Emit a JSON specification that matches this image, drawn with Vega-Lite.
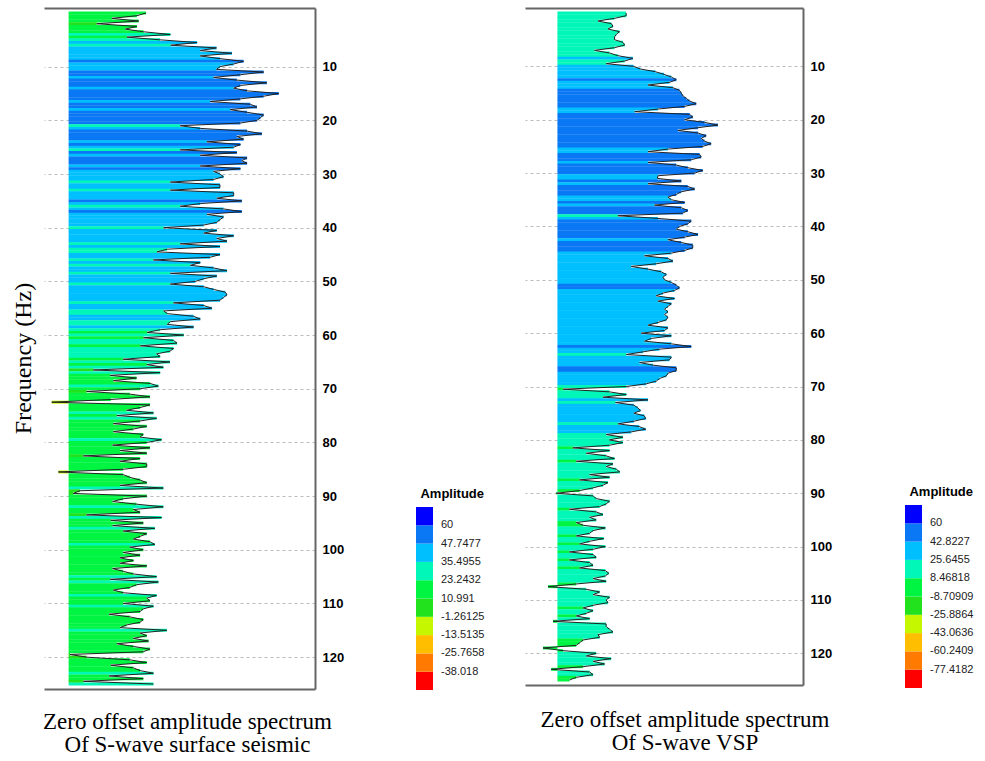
{
"$schema":"https://vega.github.io/schema/vega-lite/v6.json",
"padding":{"left":11,"top":8,"right":0,"bottom":0},
"background":"white",
"config":{"view":{"stroke":null},"font":"Liberation Sans"},
"spacing":40,
"resolve":{"scale":{"color":"independent","x":"independent","y":"independent"},"legend":{"color":"independent"}},
"datasets":{
"L":[{"f":0,"a":22},{"f":0.5,"a":19.4},{"f":1,"a":12.3},{"f":1.5,"a":19.9},{"f":2,"a":8},{"f":2.5,"a":19.4},{"f":3,"a":16.1},{"f":3.5,"a":21.3},{"f":4,"a":28.9},{"f":4.5,"a":16.6},{"f":5,"a":26},{"f":5.5,"a":36.5},{"f":6,"a":29},{"f":6.5,"a":42},{"f":7,"a":37.4},{"f":7.5,"a":46.4},{"f":8,"a":37.4},{"f":8.5,"a":43},{"f":9,"a":49.7},{"f":9.5,"a":46.9},{"f":10,"a":43},{"f":10.5,"a":42},{"f":11,"a":55.4},{"f":11.5,"a":48.8},{"f":12,"a":41.2},{"f":12.5,"a":47.8},{"f":13,"a":56.3},{"f":13.5,"a":48.8},{"f":14,"a":46.9},{"f":14.5,"a":50.7},{"f":15,"a":59.7},{"f":15.5,"a":55.4},{"f":16,"a":48.8},{"f":16.5,"a":40.2},{"f":17,"a":51.6},{"f":17.5,"a":53.5},{"f":18,"a":45.9},{"f":18.5,"a":50.7},{"f":19,"a":55.4},{"f":19.5,"a":54.5},{"f":20,"a":53.5},{"f":20.5,"a":48.8},{"f":21,"a":31.7},{"f":21.5,"a":37.4},{"f":22,"a":50.7},{"f":22.5,"a":54.9},{"f":23,"a":47.8},{"f":23.5,"a":49.7},{"f":24,"a":39.3},{"f":24.5,"a":48.8},{"f":25,"a":46.9},{"f":25.5,"a":31.7},{"f":26,"a":47.8},{"f":26.5,"a":37.4},{"f":27,"a":50.7},{"f":27.5,"a":49.2},{"f":28,"a":50.7},{"f":28.5,"a":37.4},{"f":29,"a":48.8},{"f":29.5,"a":41.2},{"f":30,"a":43},{"f":30.5,"a":44},{"f":31,"a":41.2},{"f":31.5,"a":28.9},{"f":32,"a":43},{"f":32.5,"a":43},{"f":33,"a":28.9},{"f":33.5,"a":46.9},{"f":34,"a":46.9},{"f":34.5,"a":42.1},{"f":35,"a":49.2},{"f":35.5,"a":37.4},{"f":36,"a":31.7},{"f":36.5,"a":44},{"f":37,"a":49.2},{"f":37.5,"a":39.3},{"f":38,"a":44},{"f":38.5,"a":43},{"f":39,"a":42.1},{"f":39.5,"a":38.4},{"f":40,"a":27},{"f":40.5,"a":42.1},{"f":41,"a":38.4},{"f":41.5,"a":46.9},{"f":42,"a":42.1},{"f":42.5,"a":45},{"f":43,"a":31.7},{"f":43.5,"a":43},{"f":44,"a":28},{"f":44.5,"a":25.1},{"f":45,"a":43},{"f":45.5,"a":40.2},{"f":46,"a":24.1},{"f":46.5,"a":37.4},{"f":47,"a":34.6},{"f":47.5,"a":41.2},{"f":48,"a":45},{"f":48.5,"a":28.9},{"f":49,"a":42.1},{"f":49.5,"a":38.4},{"f":50,"a":36},{"f":50.5,"a":28.9},{"f":51,"a":38.4},{"f":51.5,"a":41.2},{"f":52,"a":44.5},{"f":52.5,"a":45},{"f":53,"a":44},{"f":53.5,"a":43},{"f":54,"a":29.8},{"f":54.5,"a":38.4},{"f":55,"a":40.7},{"f":55.5,"a":27},{"f":56,"a":28},{"f":56.5,"a":35.5},{"f":57,"a":37.4},{"f":57.5,"a":28.9},{"f":58,"a":28},{"f":58.5,"a":35.5},{"f":59,"a":26},{"f":59.5,"a":22.3},{"f":60,"a":32.7},{"f":60.5,"a":21.3},{"f":61,"a":29.8},{"f":61.5,"a":30.8},{"f":62,"a":20.4},{"f":62.5,"a":29.8},{"f":63,"a":28.8},{"f":63.5,"a":25},{"f":64,"a":26},{"f":64.5,"a":15.5},{"f":65,"a":28.8},{"f":65.5,"a":22.2},{"f":66,"a":26.9},{"f":66.5,"a":7},{"f":67,"a":26},{"f":67.5,"a":11.8},{"f":68,"a":19.3},{"f":68.5,"a":12.7},{"f":69,"a":23.1},{"f":69.5,"a":25.5},{"f":70,"a":20.3},{"f":70.5,"a":5.1},{"f":71,"a":17.4},{"f":71.5,"a":23.1},{"f":72,"a":12},{"f":72.5,"a":-4.8},{"f":73,"a":23.1},{"f":73.5,"a":20.3},{"f":74,"a":16.5},{"f":74.5,"a":24.1},{"f":75,"a":13.7},{"f":75.5,"a":25},{"f":76,"a":20.3},{"f":76.5,"a":12.7},{"f":77,"a":22.2},{"f":77.5,"a":18.4},{"f":78,"a":12.7},{"f":78.5,"a":21.2},{"f":79,"a":20.3},{"f":79.5,"a":26.4},{"f":80,"a":22.2},{"f":80.5,"a":12.5},{"f":81,"a":23.1},{"f":81.5,"a":14.6},{"f":82,"a":22.2},{"f":82.5,"a":4.2},{"f":83,"a":20.3},{"f":83.5,"a":14.6},{"f":84,"a":22.2},{"f":84.5,"a":22.2},{"f":85,"a":15.5},{"f":85.5,"a":-2.9},{"f":86,"a":15.5},{"f":86.5,"a":17.4},{"f":87,"a":20.3},{"f":87.5,"a":22.2},{"f":88,"a":14.6},{"f":88.5,"a":26.9},{"f":89,"a":3.2},{"f":89.5,"a":1.3},{"f":90,"a":22.2},{"f":90.5,"a":15.5},{"f":91,"a":12.5},{"f":91.5,"a":19.3},{"f":92,"a":26.9},{"f":92.5,"a":18.4},{"f":93,"a":20.3},{"f":93.5,"a":5.1},{"f":94,"a":26.4},{"f":94.5,"a":12},{"f":95,"a":21.2},{"f":95.5,"a":12.5},{"f":96,"a":24.5},{"f":96.5,"a":15.5},{"f":97,"a":22.2},{"f":97.5,"a":20.3},{"f":98,"a":18.4},{"f":98.5,"a":23.1},{"f":99,"a":24.5},{"f":99.5,"a":17.4},{"f":100,"a":21.2},{"f":100.5,"a":15.5},{"f":101,"a":20.3},{"f":101.5,"a":14.6},{"f":102,"a":18.4},{"f":102.5,"a":14.6},{"f":103,"a":22.2},{"f":103.5,"a":12.5},{"f":104,"a":15.5},{"f":104.5,"a":18.4},{"f":105,"a":25},{"f":105.5,"a":11.8},{"f":106,"a":25.5},{"f":106.5,"a":19.3},{"f":107,"a":17.4},{"f":107.5,"a":12.7},{"f":108,"a":15.5},{"f":108.5,"a":25},{"f":109,"a":22.2},{"f":109.5,"a":23.1},{"f":110,"a":15.5},{"f":110.5,"a":24.1},{"f":111,"a":21.2},{"f":111.5,"a":20.3},{"f":112,"a":11.5},{"f":112.5,"a":17.4},{"f":113,"a":21.2},{"f":113.5,"a":20.3},{"f":114,"a":16.5},{"f":114.5,"a":14.6},{"f":115,"a":27.9},{"f":115.5,"a":20.3},{"f":116,"a":22.2},{"f":116.5,"a":18.4},{"f":117,"a":22.7},{"f":117.5,"a":13.7},{"f":118,"a":18.4},{"f":118.5,"a":23.1},{"f":119,"a":21.2},{"f":119.5,"a":0.4},{"f":120,"a":5.1},{"f":120.5,"a":17.4},{"f":121,"a":22.2},{"f":121.5,"a":12},{"f":122,"a":18.4},{"f":122.5,"a":20.3},{"f":123,"a":24.1},{"f":123.5,"a":11.5},{"f":124,"a":21.2},{"f":124.5,"a":4.2},{"f":125,"a":24.1}],
"R":[{"f":0,"a":24},{"f":0.5,"a":24.1},{"f":1,"a":19.6},{"f":1.5,"a":13.3},{"f":2,"a":18.4},{"f":2.5,"a":19},{"f":3,"a":17.1},{"f":3.5,"a":21.5},{"f":4,"a":20.3},{"f":4.5,"a":19.6},{"f":5,"a":19.6},{"f":5.5,"a":22.8},{"f":6,"a":23.5},{"f":6.5,"a":19.6},{"f":7,"a":12},{"f":7.5,"a":17.7},{"f":8,"a":20.9},{"f":8.5,"a":26.6},{"f":9,"a":23.5},{"f":9.5,"a":16.4},{"f":10,"a":26.9},{"f":10.5,"a":29.5},{"f":11,"a":35.2},{"f":11.5,"a":38.5},{"f":12,"a":41.3},{"f":12.5,"a":43.2},{"f":13,"a":40.6},{"f":13.5,"a":32.4},{"f":14,"a":41.9},{"f":14.5,"a":44.4},{"f":15,"a":45.1},{"f":15.5,"a":45.7},{"f":16,"a":47},{"f":16.5,"a":48.3},{"f":17,"a":50.8},{"f":17.5,"a":46.4},{"f":18,"a":36.2},{"f":18.5,"a":27.3},{"f":19,"a":48.3},{"f":19.5,"a":49.5},{"f":20,"a":46.4},{"f":20.5,"a":54},{"f":21,"a":59.1},{"f":21.5,"a":51.5},{"f":22,"a":43.8},{"f":22.5,"a":51.5},{"f":23,"a":54.6},{"f":23.5,"a":52.7},{"f":24,"a":54},{"f":24.5,"a":56.5},{"f":25,"a":53.3},{"f":25.5,"a":40},{"f":26,"a":32.4},{"f":26.5,"a":52.1},{"f":27,"a":52.7},{"f":27.5,"a":48.9},{"f":28,"a":32.4},{"f":28.5,"a":43.2},{"f":29,"a":47.6},{"f":29.5,"a":53.3},{"f":30,"a":50.2},{"f":30.5,"a":36.2},{"f":31,"a":36},{"f":31.5,"a":45.1},{"f":32,"a":32.4},{"f":32.5,"a":47.6},{"f":33,"a":50.2},{"f":33.5,"a":45.1},{"f":34,"a":43.2},{"f":34.5,"a":40},{"f":35,"a":41.3},{"f":35.5,"a":46.4},{"f":36,"a":34.9},{"f":36.5,"a":45.1},{"f":37,"a":47.6},{"f":37.5,"a":45.7},{"f":38,"a":20.9},{"f":38.5,"a":36.2},{"f":39,"a":48.9},{"f":39.5,"a":47.6},{"f":40,"a":44.4},{"f":40.5,"a":43.2},{"f":41,"a":47.6},{"f":41.5,"a":51.5},{"f":42,"a":46.4},{"f":42.5,"a":40},{"f":43,"a":45.1},{"f":43.5,"a":49.5},{"f":44,"a":49.5},{"f":44.5,"a":46.4},{"f":45,"a":41.3},{"f":45.5,"a":31.1},{"f":46,"a":40},{"f":46.5,"a":41.9},{"f":47,"a":35.5},{"f":47.5,"a":26},{"f":48,"a":32.4},{"f":48.5,"a":37.4},{"f":49,"a":39.4},{"f":49.5,"a":38.1},{"f":50,"a":38.7},{"f":50.5,"a":41.3},{"f":51,"a":43.2},{"f":51.5,"a":44.4},{"f":52,"a":42.5},{"f":52.5,"a":38.1},{"f":53,"a":35.5},{"f":53.5,"a":42.5},{"f":54,"a":36.2},{"f":54.5,"a":41.3},{"f":55,"a":40},{"f":55.5,"a":38.7},{"f":56,"a":40},{"f":56.5,"a":38.7},{"f":57,"a":40},{"f":57.5,"a":39.4},{"f":58,"a":36.2},{"f":58.5,"a":32.4},{"f":59,"a":40},{"f":59.5,"a":38.7},{"f":60,"a":29.8},{"f":60.5,"a":41.3},{"f":61,"a":33.6},{"f":61.5,"a":31.1},{"f":62,"a":41.3},{"f":62.5,"a":48.9},{"f":63,"a":36.8},{"f":63.5,"a":30.5},{"f":64,"a":24.1},{"f":64.5,"a":41.3},{"f":65,"a":40.6},{"f":65.5,"a":29.2},{"f":66,"a":34.3},{"f":66.5,"a":43.2},{"f":67,"a":43.2},{"f":67.5,"a":40},{"f":68,"a":39.4},{"f":68.5,"a":36.8},{"f":69,"a":35.5},{"f":69.5,"a":31.7},{"f":70,"a":24.1},{"f":70.5,"a":0},{"f":71,"a":17.7},{"f":71.5,"a":24.1},{"f":72,"a":15.2},{"f":72.5,"a":32.4},{"f":73,"a":20},{"f":73.5,"a":27},{"f":74,"a":28.5},{"f":74.5,"a":29.5},{"f":75,"a":27},{"f":75.5,"a":31},{"f":76,"a":31.5},{"f":76.5,"a":27},{"f":77,"a":21},{"f":77.5,"a":29},{"f":78,"a":31.5},{"f":78.5,"a":26},{"f":79,"a":16.4},{"f":79.5,"a":22.8},{"f":80,"a":17.7},{"f":80.5,"a":22.8},{"f":81,"a":17.7},{"f":81.5,"a":3.7},{"f":82,"a":17.7},{"f":82.5,"a":8.8},{"f":83,"a":16.4},{"f":83.5,"a":19.6},{"f":84,"a":5},{"f":84.5,"a":19},{"f":85,"a":16.4},{"f":85.5,"a":20.3},{"f":86,"a":21.6},{"f":86.5,"a":10.1},{"f":87,"a":17.7},{"f":87.5,"a":6.3},{"f":88,"a":17.1},{"f":88.5,"a":15.2},{"f":89,"a":11.4},{"f":89.5,"a":6.3},{"f":90,"a":-2.6},{"f":90.5,"a":11.4},{"f":91,"a":12.6},{"f":91.5,"a":17.7},{"f":92,"a":16.4},{"f":92.5,"a":13.9},{"f":93,"a":2.4},{"f":93.5,"a":12.6},{"f":94,"a":15.2},{"f":94.5,"a":10.1},{"f":95,"a":12.6},{"f":95.5,"a":5},{"f":96,"a":7.6},{"f":96.5,"a":16.1},{"f":97,"a":11.4},{"f":97.5,"a":10.1},{"f":98,"a":5},{"f":98.5,"a":15.5},{"f":99,"a":10.1},{"f":99.5,"a":6.3},{"f":100,"a":16.1},{"f":100.5,"a":11.4},{"f":101,"a":2.4},{"f":101.5,"a":11.4},{"f":102,"a":12.6},{"f":102.5,"a":2.4},{"f":103,"a":10.1},{"f":103.5,"a":11.4},{"f":104,"a":6.3},{"f":104.5,"a":16.1},{"f":105,"a":17.4},{"f":105.5,"a":16.1},{"f":106,"a":11.4},{"f":106.5,"a":16.4},{"f":107,"a":5},{"f":107.5,"a":-5.8},{"f":108,"a":8.8},{"f":108.5,"a":13.9},{"f":109,"a":11.4},{"f":109.5,"a":17.7},{"f":110,"a":16.4},{"f":110.5,"a":17.1},{"f":111,"a":11.4},{"f":111.5,"a":7.6},{"f":112,"a":11.4},{"f":112.5,"a":8.8},{"f":113,"a":5},{"f":113.5,"a":10.1},{"f":114,"a":-3.9},{"f":114.5,"a":16.4},{"f":115,"a":16.4},{"f":115.5,"a":17.7},{"f":116,"a":19},{"f":116.5,"a":13.3},{"f":117,"a":13.9},{"f":117.5,"a":7.6},{"f":118,"a":6.3},{"f":118.5,"a":5},{"f":119,"a":-7.7},{"f":119.5,"a":-0.1},{"f":120,"a":12.6},{"f":120.5,"a":8.8},{"f":121,"a":18.3},{"f":121.5,"a":11.4},{"f":122,"a":15.8},{"f":122.5,"a":7.6},{"f":123,"a":-4.6},{"f":123.5,"a":10.1},{"f":124,"a":11.4},{"f":124.5,"a":5},{"f":125,"a":2.4}]
},
"hconcat":[
{
"width":271,"height":681,
"data":{"name":"L"},
"title":{"text":["Zero offset amplitude spectrum","Of S-wave surface seismic"],"orient":"bottom","anchor":"middle","frame":"group","dx":8,"offset":21,"font":"Liberation Serif","fontSize":23,"fontWeight":"normal","lineHeight":23,"color":"black"},
"layer":[
{"mark":{"type":"bar","size":3,"orient":"horizontal"},
"encoding":{
"y":{"field":"f","type":"quantitative","scale":{"domain":[0,125],"reverse":true,"nice":false,"zero":false},"axis":{"orient":"right","values":[10,20,30,40,50,60,70,80,90,100,110,120],"grid":true,"gridDash":[3,3],"gridColor":"#bbbbbb","ticks":false,"domain":true,"domainColor":"#666666","domainWidth":2,"labelFont":"Liberation Sans","labelFontSize":13,"labelFontWeight":"bold","labelColor":"black","labelPadding":7,"title":null}},
"x":{"field":"a","type":"quantitative","scale":{"domain":[-7,70],"nice":false,"zero":false},"axis":{"orient":"bottom","labels":false,"ticks":false,"grid":false,"domainColor":"#666666","domainWidth":2,"title":null}},
"x2":{"datum":0},
"color":{"field":"a","type":"quantitative","scale":{"type":"threshold","domain":[-38.018,-25.7658,-13.5135,-1.26125,10.991,23.2432,35.4955,47.7477,60],"range":["#ff0000","#ff7a00","#ffbf00","#c5f700","#21e21c","#00f542","#00f7b8","#00bfff","#0a78f5","#0000ff"]},
"legend":{"type":"gradient","direction":"vertical","orient":"none","legendX":372,"legendY":480,"title":"Amplitude","titleFont":"Liberation Sans","titleFontSize":13,"titleFontWeight":"bold","titleColor":"black","titleAnchor":"end","titlePadding":6,"gradientLength":183,"gradientThickness":17,"gradientStrokeWidth":0,"labelFont":"Liberation Sans","labelFontSize":11,"labelColor":"#222222","labelOffset":8,"labelOverlap":false,"labelExpr":"isFinite(datum.value) ? '' + datum.value : ''"}}
}},
{"mark":{"type":"line","color":"#222222","strokeWidth":1},
"encoding":{
"y":{"field":"f","type":"quantitative","axis":{"orient":"left","labels":false,"ticks":false,"domain":false,"grid":false,"title":"Frequency (Hz)","titleFont":"Liberation Serif","titleFontSize":24,"titleFontWeight":"normal","titleColor":"black","titlePadding":9,"titleY":350}},
"x":{"field":"a","type":"quantitative","axis":{"orient":"top","labels":false,"ticks":false,"grid":false,"domainColor":"#666666","domainWidth":2,"title":null}},
"order":{"field":"f"}
}}
],
"resolve":{"axis":{"x":"independent","y":"independent"}}
},
{
"width":278,"height":677,
"data":{"name":"R"},
"title":{"text":["Zero offset amplitude spectrum","Of S-wave VSP"],"orient":"bottom","anchor":"middle","frame":"group","dx":21,"offset":21,"font":"Liberation Serif","fontSize":23,"fontWeight":"normal","lineHeight":23,"color":"black"},
"layer":[
{"mark":{"type":"bar","size":3,"orient":"horizontal"},
"encoding":{
"y":{"field":"f","type":"quantitative","scale":{"domain":[0,125],"reverse":true,"nice":false,"zero":false},"axis":{"orient":"right","values":[10,20,30,40,50,60,70,80,90,100,110,120],"grid":true,"gridDash":[3,3],"gridColor":"#bbbbbb","ticks":false,"domain":true,"domainColor":"#666666","domainWidth":2,"labelFont":"Liberation Sans","labelFontSize":13,"labelFontWeight":"bold","labelColor":"black","labelPadding":7,"title":null}},
"x":{"field":"a","type":"quantitative","scale":{"domain":[-14.6,91.6],"nice":false,"zero":false},"axis":{"orient":"bottom","labels":false,"ticks":false,"grid":false,"domainColor":"#666666","domainWidth":2,"title":null}},
"x2":{"datum":-2.2},
"color":{"field":"a","type":"quantitative","scale":{"type":"threshold","domain":[-77.4182,-60.2409,-43.0636,-25.8864,-8.70909,8.46818,25.6455,42.8227,60],"range":["#ff0000","#ff7a00","#ffbf00","#c5f700","#21e21c","#00f542","#00f7b8","#00bfff","#0a78f5","#0000ff"]},
"legend":{"type":"gradient","direction":"vertical","orient":"none","legendX":380,"legendY":478,"title":"Amplitude","titleFont":"Liberation Sans","titleFontSize":13,"titleFontWeight":"bold","titleColor":"black","titleAnchor":"end","titlePadding":6,"gradientLength":183,"gradientThickness":17,"gradientStrokeWidth":0,"labelFont":"Liberation Sans","labelFontSize":11,"labelColor":"#222222","labelOffset":8,"labelOverlap":false,"labelExpr":"isFinite(datum.value) ? '' + datum.value : ''"}}
}},
{"mark":{"type":"line","color":"#222222","strokeWidth":1},
"encoding":{
"y":{"field":"f","type":"quantitative","axis":null},
"x":{"field":"a","type":"quantitative","axis":{"orient":"top","labels":false,"ticks":false,"grid":false,"domainColor":"#666666","domainWidth":2,"title":null}},
"order":{"field":"f"}
}}
],
"resolve":{"axis":{"x":"independent","y":"independent"}}
}
]
}
